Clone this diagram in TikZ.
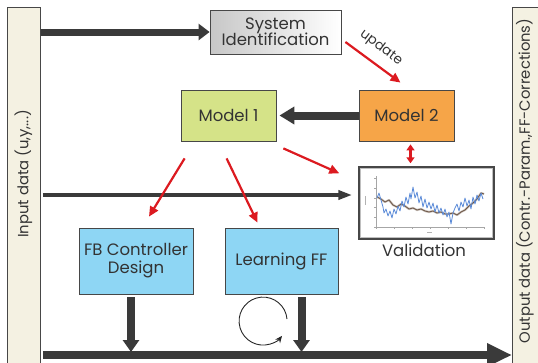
\documentclass[tikz,border=0pt]{standalone}
\usepackage{fontspec}
\setmainfont{Poppins}
\usetikzlibrary{arrows.meta,calc}
\definecolor{darkar}{HTML}{3A3A3A}
\definecolor{barfill}{HTML}{F4F1E2}
\definecolor{edge}{HTML}{474747}
\definecolor{greenbox}{HTML}{D5E388}
\definecolor{orangebox}{HTML}{F6A548}
\definecolor{bluebox}{HTML}{8ED6F4}
\definecolor{redar}{HTML}{DC1A20}
\definecolor{txt}{HTML}{333333}
\definecolor{brownline}{HTML}{6B5444}
\definecolor{blueline}{HTML}{5A8AD8}
\begin{document}
\begin{tikzpicture}[x=1pt,y=-1pt,
  font=\fontsize{16.5}{19}\selectfont, text=txt,
  box/.style={draw=edge, line width=0.8pt, align=center, inner sep=0pt},
  bar/.style={draw=edge, fill=barfill, line width=0.8pt},
  bigarrow/.style={draw=darkar, line width=7.5pt, -{Triangle[length=12pt,width=17pt]}},
  midarrow/.style={draw=darkar, line width=4pt, -{Triangle[length=14pt,width=9pt]}},
  redarrow/.style={draw=redar, line width=2.2pt, -{Triangle[length=10pt,width=9pt]}},
  barlabel/.style={rotate=90, font=\fontsize{14.8}{17}\selectfont}
]
\useasboundingbox (0,0) rectangle (538,362);
\clip (0,0) rectangle (538,362);

% side bars
\node (inbar) [bar, anchor=north west, minimum width=33pt, minimum height=370pt] at (7,7) {};
\node (outbar) [bar, anchor=north west, minimum width=40pt, minimum height=370pt] at (512,7) {};
\node (inlabel) [barlabel] at (23.5,174) {Input data (u,y,...)};
\node (outlabel) [barlabel] at (525,181) {Output data (Contr.-Param.,FF-Corrections)};

% boxes
\node (sysid) [box, left color=black!22, right color=white, minimum width=131pt, minimum height=44pt] at (275.5,32) {System\\[-3pt]Identification};
\node (model1) [box, fill=greenbox, minimum width=95pt, minimum height=51pt] at (228.5,115.5) {Model 1};
\node (model2) [box, fill=orangebox, minimum width=95pt, minimum height=51pt] at (406.5,115.5) {Model 2};
\node (fb) [box, fill=bluebox, minimum width=114pt, minimum height=66pt] at (136,261) {FB Controller\\[-1pt]Design};
\node (learn) [box, fill=bluebox, minimum width=113pt, minimum height=66pt] at (281.5,261) {Learning FF};
\node (valid) [draw=edge, line width=1.4pt, fill=white, minimum width=135pt, minimum height=72pt, inner sep=0pt] at (426.5,203) {};
\node (validlabel) at (424,250) {Validation};
\node (updlabel) [rotate=-37, inner sep=0pt, font=\fontsize{13.5}{15}\selectfont] at (381,48) {update};

% plot inside validation
\draw[black!25, line width=0.6pt] ($(valid.north west)+(2,2)$) rectangle ($(valid.south east)+(-2,-2)$);
\draw[black!35, line width=0.4pt] (376,176) -- (376,227) -- (484,227);
\foreach \t in {376,394,412,430,448,466,484} \draw[black!35, line width=0.3pt] (\t,227) -- (\t,229);
\foreach \t in {178,188,198,207,217,227} \draw[black!35, line width=0.3pt] (376,\t) -- (374,\t);
\draw[black!30, line width=1pt] (365,196) -- (365,205);
\draw[black!30, line width=0.8pt] (427,232) -- (432,232);
\draw[brownline!35, line width=2.2pt, line join=round] plot coordinates {(377,197)(381,199)(385,202)(389,200)(393,205)(397,207)(401,204)(405,206)(409,209)(413,208)(417,210)(421,209)(425,211)(429,212)(433,211)(437,213)(441,212)(445,214)(449,214)(453,213)(457,215)(461,212)(465,210)(469,206)(473,203)(477,199)(481,193)(484,194)};
\draw[brownline, line width=0.8pt, line join=round] plot coordinates {(377,197)(381,199)(385,202)(389,200)(393,205)(397,207)(401,204)(405,206)(409,209)(413,208)(417,210)(421,209)(425,211)(429,212)(433,211)(437,213)(441,212)(445,214)(449,214)(453,213)(457,215)(461,212)(465,210)(469,206)(473,203)(477,199)(481,193)(484,194)};
\draw[blueline, line width=0.8pt, line join=round] plot coordinates {(377,198)(379,193)(381,200)(383,207)(384,213)(386,209)(388,216)(390,211)(392,218)(394,209)(396,214)(398,206)(400,211)(402,201)(404,207)(406,197)(408,204)(410,193)(411,199)(413,187)(415,198)(417,192)(419,203)(421,196)(423,207)(425,199)(427,208)(429,202)(431,209)(433,203)(435,212)(437,205)(439,213)(441,208)(443,215)(445,209)(447,217)(449,212)(451,224)(453,213)(455,208)(457,204)(459,211)(461,202)(463,207)(465,198)(467,206)(469,200)(471,209)(473,197)(475,204)(477,195)(479,201)(481,193)(483,199)};

% coordinates for free ends
\coordinate (topstart) at (inbar.east |- sysid.west);
\coordinate (midstart) at ($(inbar.east)+(2,0)$);
\coordinate (midstart) at (midstart |- 0,195);
\coordinate (botstart) at ($(inbar.east |- 0,355)+(2,0)$);
\coordinate (botend) at (512,355);
\coordinate (fbdrop) at ($(fb.south)+(-5,3)$);
\coordinate (fbhit) at (fbdrop |- 0,352);
\coordinate (ldrop) at ($(learn.south)+(20,3)$);
\coordinate (lhit) at (ldrop |- 0,352);
\coordinate (cyc) at (263,321);

% dark arrows
\draw[bigarrow, line width=7pt, -{Triangle[length=11pt,width=16pt]}] (topstart) -- (sysid.west);
\draw[bigarrow, line width=8pt, -{Triangle[length=15pt,width=17pt]}] (model2.west) -- ($(model1.east)+(3,0)$);
\draw[midarrow] (midstart) -- ($(valid.west |- midstart)+(-6,0)$);
\draw[bigarrow, line width=8pt, -{Triangle[length=25pt,width=22pt]}] (botstart) -- (botend);
\draw[bigarrow, line width=8pt, -{Triangle[length=12pt,width=16pt]}] (fbdrop) -- (fbhit);
\draw[bigarrow, line width=8pt, -{Triangle[length=12pt,width=16pt]}] (ldrop) -- (lhit);

% red arrows
\draw[redarrow] ($(sysid.east)+(4,10)$) -- ($(model2.north)+(-6,-7)$);
\draw[redarrow] ($(model1.south east)+(7,7)$) -- ($(valid.north west)+(-19,7)$);
\draw[redarrow] ($(model1.south west)+(4,17)$) -- ($(fb.north)+(13,-11)$);
\draw[redarrow] ($(model1.south west)+(46,17)$) -- ($(learn.north)+(-24,-5)$);
\draw[draw=redar, line width=2.2pt, {Triangle[length=6pt,width=8pt]}-{Triangle[length=6pt,width=8pt]}] ($(model2.south)+(4,3)$) -- ($(valid.north)+(-16,-3)$);

% cycle arrow
\draw[black!85, line width=0.9pt, -{Stealth[length=7pt,width=6pt]}] ($(cyc)+(24,-2)$) arc[start angle=-5, end angle=-322, radius=24];
\end{tikzpicture}
\end{document}
